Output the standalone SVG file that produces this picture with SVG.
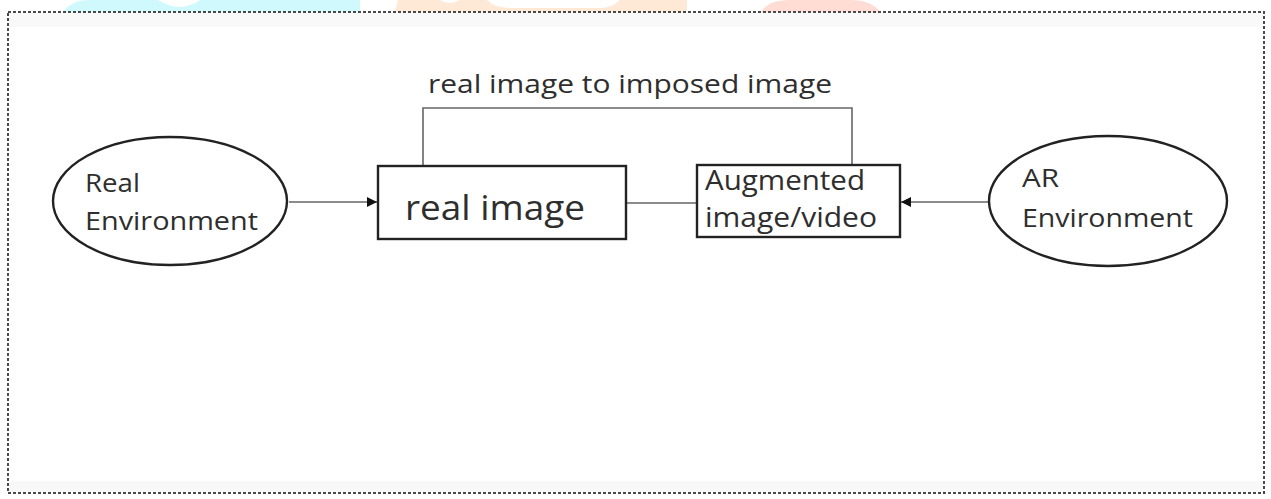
<svg xmlns="http://www.w3.org/2000/svg" width="1271" height="499" viewBox="0 0 1271 499">
  <style>
    .frame { fill: none; stroke: #4a4a4a; stroke-width: 2; stroke-dasharray: 3 2; }
    .shape { fill: #fff; stroke: #222; stroke-width: 2.4; }
    .link { fill: none; stroke: #666; stroke-width: 1.6; }
    .lbl { font-family: "Open Sans", "Noto Sans", "DejaVu Sans", sans-serif; fill: #2e2e2e; }
  </style>
  <defs>
    <marker id="arrow" viewBox="0 0 10 10" refX="10" refY="5" markerWidth="10" markerHeight="10" markerUnits="userSpaceOnUse" orient="auto">
      <path d="M0,0 L10,5 L0,10 Z" fill="#111"/>
    </marker>
  </defs>

  <rect x="0" y="0" width="1271" height="499" fill="#fff"/>

  <!-- coloured bands peeking above the frame -->
  <path d="M63,12 Q72,0 88,0 L158,0 Q170,7 180,7 Q190,7 200,0 L360,0 L360,12 Z" fill="#cff9fd"/>
  <path d="M395,12 L398,0 L440,0 Q450,6 460,0 L487,0 Q495,8 510,8 L600,8 Q612,8 620,0 L687,0 L687,12 Z" fill="#fde9d6"/>
  <path d="M761,12 Q768,0 790,0 L850,0 Q872,0 880,12 Z" fill="#ffdcd4"/>

  <!-- faint grain just inside the frame -->
  <rect x="9" y="13" width="1254" height="14" fill="#f9f9f9"/>
  <rect x="9" y="481" width="1254" height="11" fill="#f8f8f8"/>

  <rect class="frame" x="8" y="12" width="1256" height="481"/>

  <g id="connectors">
    <path class="link" d="M289,202 L377,202" marker-end="url(#arrow)"/>
    <path class="link" d="M627,203 L697,203"/>
    <path class="link" d="M989,202 L901,202" marker-end="url(#arrow)"/>
    <path class="link" d="M423,165 L423,108 L852,108 L852,165"/>
    <text class="lbl" x="428" y="93" font-size="26" textLength="404" lengthAdjust="spacingAndGlyphs">real image to imposed image</text>
  </g>

  <g id="real-environment">
    <ellipse class="shape" cx="170" cy="201" rx="117" ry="64"/>
    <text class="lbl" x="85" y="192" font-size="26" textLength="55" lengthAdjust="spacingAndGlyphs">Real</text>
    <text class="lbl" x="85" y="230" font-size="26" textLength="173" lengthAdjust="spacingAndGlyphs">Environment</text>
  </g>

  <g id="real-image">
    <rect class="shape" x="378" y="166" width="248" height="73"/>
    <text class="lbl" x="405" y="220" font-size="35" textLength="180" lengthAdjust="spacingAndGlyphs">real image</text>
  </g>

  <g id="augmented">
    <rect class="shape" x="697" y="165" width="203" height="72"/>
    <text class="lbl" x="705" y="190" font-size="27" textLength="160" lengthAdjust="spacingAndGlyphs">Augmented</text>
    <text class="lbl" x="705" y="227" font-size="27" textLength="172" lengthAdjust="spacingAndGlyphs">image/video</text>
  </g>

  <g id="ar-environment">
    <ellipse class="shape" cx="1108" cy="201" rx="119" ry="65"/>
    <text class="lbl" x="1022" y="187" font-size="26" textLength="37" lengthAdjust="spacingAndGlyphs">AR</text>
    <text class="lbl" x="1022" y="227" font-size="26" textLength="171" lengthAdjust="spacingAndGlyphs">Environment</text>
  </g>
</svg>
